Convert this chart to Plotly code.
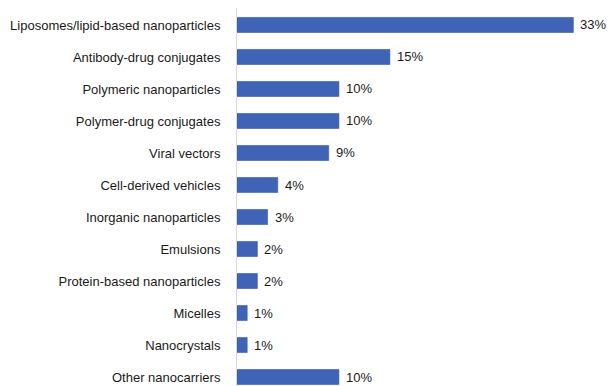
import plotly.graph_objects as go

categories = [
    "Liposomes/lipid-based nanoparticles",
    "Antibody-drug conjugates",
    "Polymeric nanoparticles",
    "Polymer-drug conjugates",
    "Viral vectors",
    "Cell-derived vehicles",
    "Inorganic nanoparticles",
    "Emulsions",
    "Protein-based nanoparticles",
    "Micelles",
    "Nanocrystals",
    "Other nanocarriers",
]
values = [33, 15, 10, 10, 9, 4, 3, 2, 2, 1, 1, 10]
labels = [f"{v}%" for v in values]

FONT = "Liberation Sans, Arial, sans-serif"

fig = go.Figure(
    go.Bar(
        x=values,
        y=categories,
        orientation="h",
        width=0.47,
        marker=dict(color="#3F64B7", line=dict(color="#365AA8", width=0.6)),
        cliponaxis=False,
    )
)

for c, v, t in zip(categories, values, labels):
    fig.add_annotation(
        x=v, y=c, text=t, showarrow=False, xanchor="left", xshift=5,
        font=dict(family=FONT, size=13, color="#1a1a1a"),
    )

fig.update_layout(
    width=608,
    height=386,
    margin=dict(l=237, r=0, t=8, b=0),
    paper_bgcolor="white",
    plot_bgcolor="white",
    showlegend=False,
    font=dict(family=FONT, size=13, color="#1a1a1a"),
    xaxis=dict(range=[0, 36.4], visible=False, showgrid=False, zeroline=False),
    yaxis=dict(
        type="category",
        range=[11.28, -0.53],
        showgrid=False,
        zeroline=False,
        showline=True,
        linecolor="#d9d9d9",
        linewidth=1,
        ticks="",
        ticklabelstandoff=13,
        tickfont=dict(family=FONT, size=13, color="#1a1a1a"),
    ),
)

fig.write_html("out.html")
